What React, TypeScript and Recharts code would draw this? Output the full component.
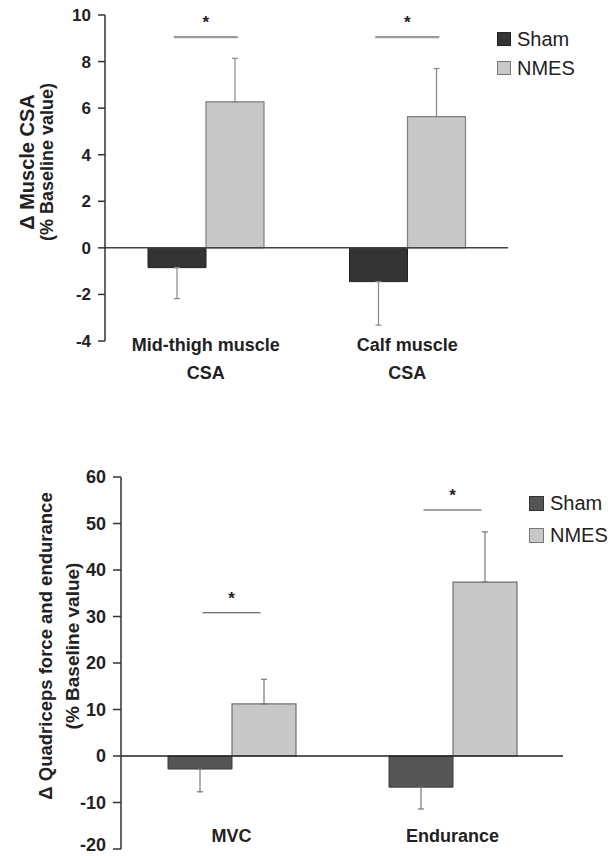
import React from 'react';
import { ComposedChart, Bar, Line, XAxis, YAxis, ReferenceLine, ErrorBar, Legend } from 'recharts';

const FONT = '"Liberation Sans", Arial, Helvetica, sans-serif';

// ---- Top chart: muscle CSA ----
const csaCategories = ['Mid-thigh muscle\nCSA', 'Calf muscle\nCSA'];
const csaSham = [-0.85, -1.45];
const csaShamErr = [1.33, 1.87];
const csaNmes = [6.27, 5.64];
const csaNmesErr = [1.87, 2.06];
const csaSig = [9.05, 9.05];
const csaTicks = [-4, -2, 0, 2, 4, 6, 8, 10];
const csaYLabel = ['\u0394 Muscle CSA', '(% Baseline value)'];

// ---- Bottom chart: quadriceps force & endurance ----
const qCategories = ['MVC', 'Endurance'];
const qSham = [-2.8, -6.7];
const qShamErr = [4.9, 4.7];
const qNmes = [11.2, 37.4];
const qNmesErr = [5.3, 10.8];
const qSig = [30.8, 52.9];
const qTicks = [-20, -10, 0, 10, 20, 30, 40, 50, 60];
const qYLabel = ['\u0394 Quadriceps force and endurance', '(% Baseline value)'];

const seriesNames = ['Sham', 'NMES'];

const oneSided = (v: number, e: number) => (v < 0 ? [e, 0] : [0, e]);

const buildData = (
  cats: string[], sham: number[], shamErr: number[], nmes: number[], nmesErr: number[], sig: number[]
) =>
  cats.map((c, i) => ({
    category: c,
    sham: sham[i],
    shamErr: oneSided(sham[i], shamErr[i]),
    nmes: nmes[i],
    nmesErr: oneSided(nmes[i], nmesErr[i]),
    sig: sig[i],
  }));

const csaData = buildData(csaCategories, csaSham, csaShamErr, csaNmes, csaNmesErr, csaSig);
const qData = buildData(qCategories, qSham, qShamErr, qNmes, qNmesErr, qSig);

const XTick = (props: any) => {
  const { x, y, payload, dy, lineGap, fontSize } = props;
  const lines = String(payload.value).split('\n');
  return (
    <g>
      {lines.map((l: string, i: number) => (
        <text
          key={i}
          x={x}
          y={y + dy + i * lineGap}
          textAnchor="middle"
          fontFamily={FONT}
          fontWeight="bold"
          fontSize={fontSize}
          fill="#222"
        >
          {l}
        </text>
      ))}
    </g>
  );
};

const YTick = (props: any) => {
  const { x, y, payload, fontSize, maxY } = props;
  const yy = maxY != null ? Math.min(y, maxY) : y;
  return (
    <text
      x={x}
      y={yy}
      dy="0.355em"
      textAnchor="end"
      fontFamily={FONT}
      fontWeight="bold"
      fontSize={fontSize}
      fill="#222"
    >
      {payload.value}
    </text>
  );
};

const SigMark = (props: any) => {
  const { cx, cy, half, color, strokeW } = props;
  if (cx == null || cy == null) return null;
  return (
    <g>
      <line x1={cx - half} x2={cx + half} y1={cy} y2={cy} stroke={color} strokeWidth={strokeW} />
      <text x={cx} y={cy - 9} textAnchor="middle" fontFamily={FONT} fontWeight="bold" fontSize={17} fill="#222">
        *
      </text>
    </g>
  );
};

const YLabel = (props: any) => {
  const { lines, xs, cy, sizes } = props;
  return (
    <g>
      {lines.map((l: string, i: number) => (
        <text
          key={i}
          x={xs[i]}
          y={cy}
          transform={`rotate(-90, ${xs[i]}, ${cy})`}
          textAnchor="middle"
          fontFamily={FONT}
          fontWeight="bold"
          fontSize={sizes[i]}
          fill="#222"
        >
          {l}
        </text>
      ))}
    </g>
  );
};

const LegendContent = (props: any) => {
  const { payload, size, rowH, fontSize, strokes } = props;
  const items = (payload || [])
    .filter((p: any) => seriesNames.includes(p.value))
    .sort((a: any, b: any) => seriesNames.indexOf(a.value) - seriesNames.indexOf(b.value));
  return (
    <div style={{ fontFamily: FONT }}>
      {items.map((p: any, i: number) => (
        <div key={p.value} style={{ display: 'flex', alignItems: 'center', height: rowH }}>
          <span
            style={{
              display: 'inline-block',
              width: size,
              height: size,
              background: p.color,
              border: `1px solid ${strokes[i]}`,
              boxSizing: 'border-box',
              marginRight: 6,
            }}
          />
          <span style={{ fontSize, color: '#222', lineHeight: 1 }}>{p.value}</span>
        </div>
      ))}
    </div>
  );
};

export default function App() {
  return (
    <div style={{ position: 'absolute', left: 0, top: 0, width: 615, height: 856, background: '#fff' }}>
      <div style={{ position: 'absolute', left: 0, top: 0 }}>
        <ComposedChart
          width={615}
          height={400}
          data={csaData}
          margin={{ top: 15, right: 107, left: 0, bottom: 9 }}
          barGap={0}
        >
          <XAxis
            dataKey="category"
            axisLine={false}
            tickLine={false}
            tickSize={0}
            tickMargin={0}
            height={50}
            interval={0}
            tick={<XTick dy={10} lineGap={28} fontSize={18} />}
          />
          <YAxis
            width={105}
            domain={[-4, 10]}
            ticks={csaTicks}
            interval={0}
            allowDataOverflow
            axisLine={{ stroke: '#333', strokeWidth: 1.5 }}
            tickLine={{ stroke: '#333', strokeWidth: 1.5 }}
            tickSize={7}
            tickMargin={7}
            tick={<YTick fontSize={17} />}
            label={<YLabel lines={csaYLabel} xs={[34, 53]} cy={162} sizes={[20, 18]} />}
          />
          <ReferenceLine y={0} stroke="#444" strokeWidth={1.5} />
          <Bar dataKey="sham" name="Sham" fill="#333333" stroke="#222" strokeWidth={1} barSize={58} isAnimationActive={false}>
            <ErrorBar dataKey="shamErr" width={3} stroke="#888" strokeWidth={1.2} direction="y" />
          </Bar>
          <Bar dataKey="nmes" name="NMES" fill="#c8c8c8" stroke="#808080" strokeWidth={1.2} barSize={58} isAnimationActive={false}>
            <ErrorBar dataKey="nmesErr" width={3} stroke="#888" strokeWidth={1.2} direction="y" />
          </Bar>
          <Line
            dataKey="sig"
            stroke="none"
            legendType="none"
            isAnimationActive={false}
            activeDot={false}
            dot={(p: any) => <SigMark key={`s${p.index}`} {...p} half={32} color="#9a9a9a" strokeW={2.2} />}
          />
          <Legend
            layout="vertical"
            align="center"
            verticalAlign="middle"
            wrapperStyle={{ top: 24, left: 497 }}
            content={<LegendContent size={14} rowH={29} fontSize={20} strokes={['#222', '#777']} />}
          />
        </ComposedChart>
      </div>

      <div style={{ position: 'absolute', left: 0, top: 430 }}>
        <ComposedChart
          width={615}
          height={426}
          data={qData}
          margin={{ top: 47, right: 52, left: 0, bottom: 0 }}
          barGap={0}
        >
          <XAxis
            dataKey="category"
            axisLine={false}
            tickLine={false}
            tickSize={0}
            tickMargin={0}
            height={7}
            interval={0}
            tick={<XTick dy={-7} lineGap={28} fontSize={18} />}
          />
          <YAxis
            width={121}
            domain={[-20, 60]}
            ticks={qTicks}
            interval={0}
            allowDataOverflow
            axisLine={{ stroke: '#333', strokeWidth: 1.5 }}
            tickLine={{ stroke: '#333', strokeWidth: 1.5 }}
            tickSize={8}
            tickMargin={7}
            tick={<YTick fontSize={18} maxY={415} />}
            label={<YLabel lines={qYLabel} xs={[52, 79]} cy={216} sizes={[18.5, 19]} />}
          />
          <ReferenceLine y={0} stroke="#222" strokeWidth={1.5} />
          <Bar dataKey="sham" name="Sham" fill="#555555" stroke="#3a3a3a" strokeWidth={1} barSize={64} isAnimationActive={false}>
            <ErrorBar dataKey="shamErr" width={3} stroke="#777" strokeWidth={1.2} direction="y" />
          </Bar>
          <Bar dataKey="nmes" name="NMES" fill="#c8c8c8" stroke="#707070" strokeWidth={1.2} barSize={64} isAnimationActive={false}>
            <ErrorBar dataKey="nmesErr" width={3} stroke="#777" strokeWidth={1.2} direction="y" />
          </Bar>
          <Line
            dataKey="sig"
            stroke="none"
            legendType="none"
            isAnimationActive={false}
            activeDot={false}
            dot={(p: any) => <SigMark key={`q${p.index}`} {...p} half={29} color="#444" strokeW={1} />}
          />
          <Legend
            layout="vertical"
            align="center"
            verticalAlign="middle"
            wrapperStyle={{ top: 57, left: 529 }}
            content={<LegendContent size={15} rowH={32} fontSize={20} strokes={['#333', '#777']} />}
          />
        </ComposedChart>
      </div>
    </div>
  );
}
